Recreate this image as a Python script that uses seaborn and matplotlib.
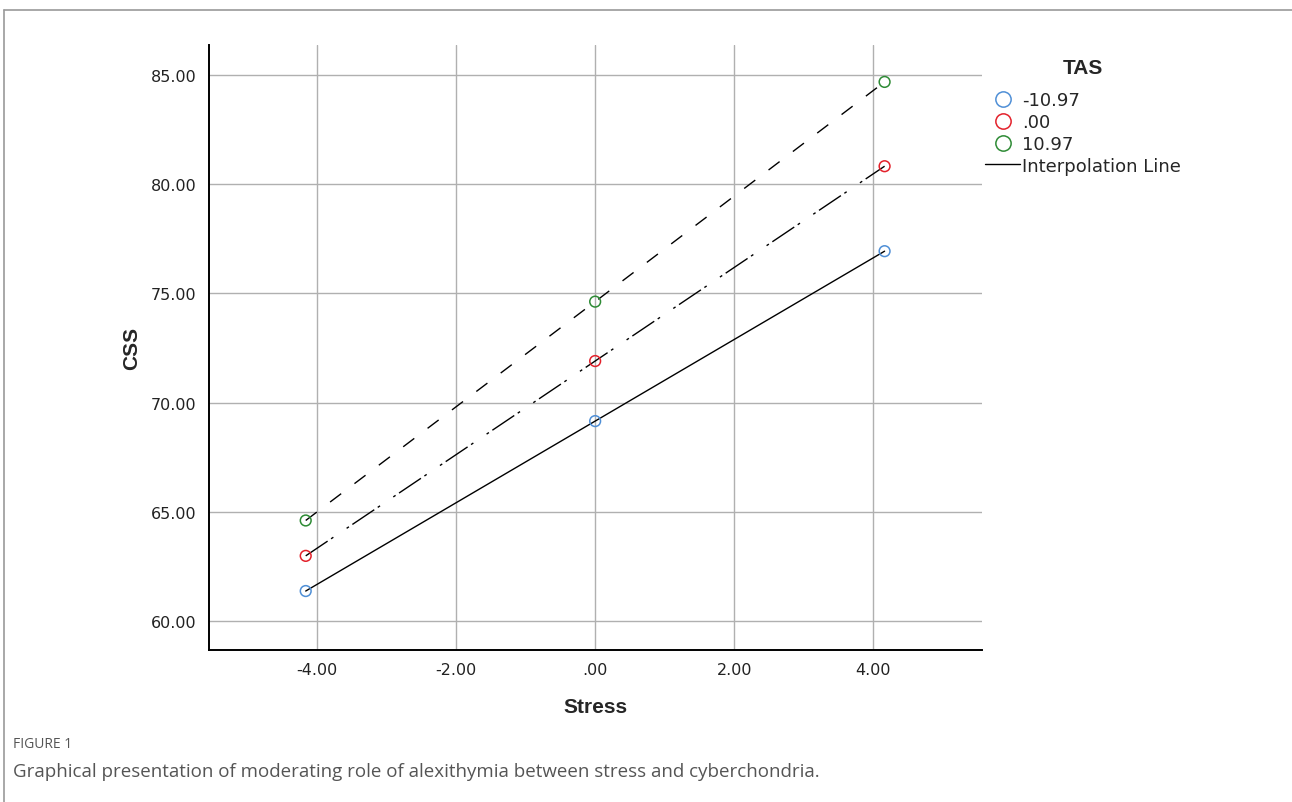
import numpy as np
import pandas as pd
import matplotlib
matplotlib.use("Agg")
import matplotlib.pyplot as plt
import seaborn as sns
from matplotlib.lines import Line2D

# ---- data ----
stress = [-4.16, 0.00, 4.16]
tas_levels = ["-10.97", ".00", "10.97"]
css_low = [61.37, 69.15, 76.93]
css_mid = [62.98, 71.90, 80.82]
css_high = [64.60, 74.62, 84.68]
xticks = [-4, -2, 0, 2, 4]
xtick_labels = ["-4.00", "-2.00", ".00", "2.00", "4.00"]
yticks = [60, 65, 70, 75, 80, 85]
ytick_labels = ["60.00", "65.00", "70.00", "75.00", "80.00", "85.00"]

colors = {"-10.97": "#4f8fd6", ".00": "#e3212b", "10.97": "#2e8b35"}
dashes = {"-10.97": "", ".00": (19, 3, 2, 11.5, 2, 3), "10.97": (10, 12)}

df = pd.DataFrame({
    "Stress": stress * 3,
    "CSS": css_low + css_mid + css_high,
    "TAS": [t for t in tas_levels for _ in stress],
})

sns.set_theme(style="white")
plt.rcParams["font.family"] = ["DejaVu Sans"]

fig = plt.figure(figsize=(12.92, 8.03), dpi=100)
ax = fig.add_axes([209 / 1292, 1 - 651 / 803, (982 - 209) / 1292, (651 - 46) / 803])

sns.lineplot(data=df, x="Stress", y="CSS", style="TAS", dashes=dashes,
             color="black", linewidth=1.0, legend=False, ax=ax,
             style_order=tas_levels)
for t in tas_levels:
    sub = df[df["TAS"] == t]
    ax.scatter(sub["Stress"], sub["CSS"], s=60, facecolors="none",
               edgecolors=colors[t], linewidths=1.1, zorder=5)

ax.set_xlim(-5.55, 5.56)
ax.set_ylim(58.67, 86.37)
ax.set_xticks(xticks)
ax.set_xticklabels(xtick_labels)
ax.set_yticks(yticks)
ax.set_yticklabels(ytick_labels)
ax.tick_params(axis="both", length=0, labelsize=11.5, colors="#222222")
ax.tick_params(axis="x", pad=9)
ax.tick_params(axis="y", pad=9)
ax.grid(True, color="#b0b0b0", linewidth=1.0)
ax.set_axisbelow(True)
for s in ["top", "right"]:
    ax.spines[s].set_visible(False)
for s in ["left", "bottom"]:
    ax.spines[s].set_color("black")
    ax.spines[s].set_linewidth(1.4)

ax.set_xlabel("Stress", fontsize=15, fontweight="bold", labelpad=14,
              family=["Liberation Sans", "DejaVu Sans"])
ax.set_ylabel("CSS", fontsize=15, fontweight="bold", labelpad=7,
              family=["Liberation Sans", "DejaVu Sans"])

handles = [Line2D([], [], marker="o", linestyle="none", markersize=11,
                  markerfacecolor="none", markeredgecolor=colors[t],
                  markeredgewidth=1.1) for t in tas_levels]
handles.append(Line2D([], [], color="black", linewidth=1.0))
labels = tas_levels + ["Interpolation Line"]
leg = fig.legend(handles, labels, title="TAS", loc="upper left",
                 bbox_to_anchor=(985 / 1292, 1 - 59 / 803), frameon=False,
                 fontsize=13, handlelength=1.95, handletextpad=0.1,
                 labelspacing=0.22, borderaxespad=0, borderpad=0)
leg.get_title().set_fontweight("bold")
leg.get_title().set_fontsize(15)
leg.get_title().set_family(["Liberation Sans", "DejaVu Sans"])
leg._legend_box.sep = 10

# outer frame
fig.add_artist(Line2D([0.003, 1.0], [1 - 11 / 803, 1 - 11 / 803],
                      color="#9a9a9a", linewidth=1.2, transform=fig.transFigure))
fig.add_artist(Line2D([0.003, 0.003], [0.0, 1 - 11 / 803],
                      color="#9a9a9a", linewidth=1.2, transform=fig.transFigure))

fig.text(13 / 1292, 1 - 745 / 803, "FIGURE 1", fontsize=10, color="#555555",
         family=["Open Sans", "DejaVu Sans"], va="center")
fig.text(13 / 1292, 1 - 772 / 803,
         "Graphical presentation of moderating role of alexithymia between stress and cyberchondria.",
         fontsize=13.5, color="#555555", family=["Open Sans", "DejaVu Sans"], va="center")

fig.savefig("out.png", dpi=100)
